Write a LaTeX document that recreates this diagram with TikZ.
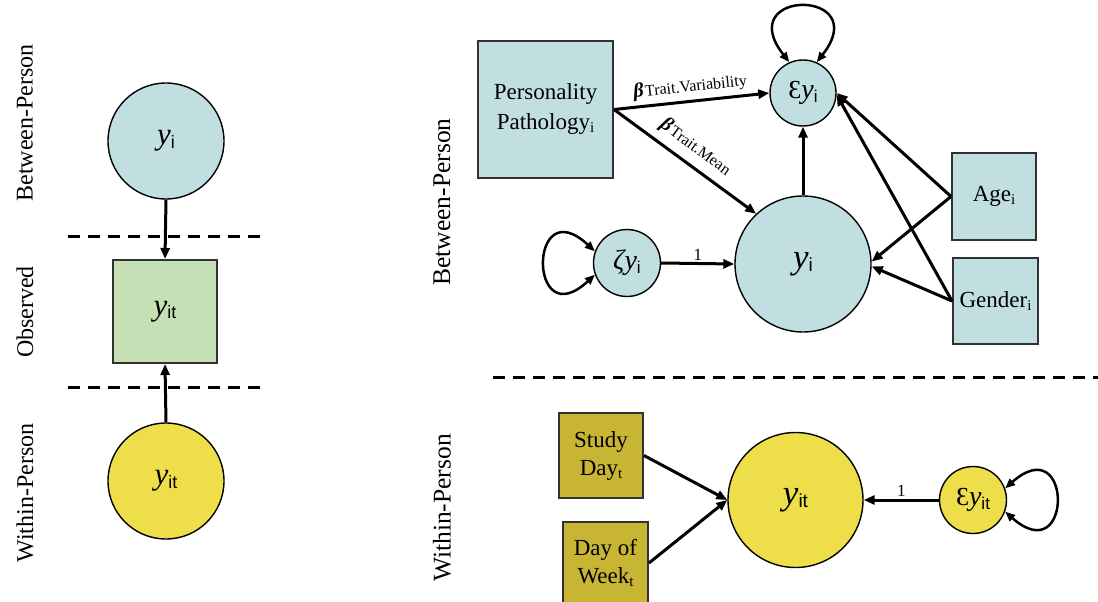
\documentclass[tikz,border=0pt]{standalone}
\usepackage{fontspec}
\setmainfont{Liberation Serif}
\setsansfont{Liberation Sans}
\usetikzlibrary{arrows.meta}
\definecolor{cblue}{RGB}{193,223,224}
\definecolor{cgreen}{RGB}{197,224,180}
\definecolor{cyellow}{RGB}{238,222,74}
\definecolor{colive}{RGB}{200,181,52}
\definecolor{cborder}{RGB}{50,50,50}
\newcommand{\Yv}[3]{{\fontsize{#1}{#1}\selectfont\itshape y}\raisebox{-3.5pt}{\sffamily\fontsize{#2}{#2}\selectfont #3}}
\newcommand{\Sbs}[1]{\raisebox{-3pt}{\fontsize{15}{15}\selectfont #1}}
\newcommand{\Bet}[1]{{\fontsize{20}{20}\selectfont\bfseries\itshape β}\hspace{1.5pt}{\fontsize{16}{16}\selectfont #1}}
\begin{document}
\begin{tikzpicture}[x=1pt,y=-1pt,
  lat/.style={circle,draw=black,line width=1.4pt,inner sep=0pt},
  obs/.style={rectangle,draw=cborder,line width=2pt,inner sep=0pt,align=center,font=\fontsize{23}{30}\selectfont},
  conn/.style={line width=3pt,-{Triangle[length=11pt,width=9pt]}},
  loopc/.style={line width=2.5pt,{Triangle[length=10pt,width=8pt]}-{Triangle[length=10pt,width=8pt]}},
  sepline/.style={line width=3pt,dash pattern=on 12pt off 8pt},
  grp/.style={rotate=90,inner sep=0pt,font=\fontsize{24}{24}\selectfont},
  one/.style={above=2pt,inner sep=0pt,font=\fontsize{17}{17}\selectfont}
]
\useasboundingbox (0,0) rectangle (1098,602);
\clip (0,0) rectangle (1098,602);
\fill[white] (0,0) rectangle (1098,602);

% ---------- left panel ----------
\node[grp] (lb1) at (25,123) {Between-Person};
\node[grp] (lb2) at (25,312) {Observed};
\node[grp] (lb3) at (25,493) {Within-Person};

\draw[sepline] (68,236) -- (264,236);
\draw[sepline] (68,387) -- (264,387);

\node[lat,fill=cblue,minimum size=116pt] (L1) at (166,141) {\Yv{31}{18}{i}};
\node[obs,fill=cgreen,minimum width=104pt,minimum height=103pt] (L2) at (165,311.5) {\Yv{31}{18}{it}};
\node[lat,fill=cyellow,minimum size=116pt] (L3) at (166,481) {\Yv{31}{18}{it}};

\draw[conn] (L1.south) -- (L2.north);
\draw[conn] (L3.north) -- (L2.south);

% ---------- right panel: between ----------
\node[grp,font=\fontsize{25.5}{25.5}\selectfont] (rb1) at (442,202) {Between-Person};
\node[grp,font=\fontsize{25.5}{25.5}\selectfont] (rb2) at (442,508) {Within-Person};

\draw[sepline] (493,377) -- (1098,377);

\node[obs,fill=cblue,minimum width=135pt,minimum height=137pt] (PP) at (545.5,109.5) {Personality\\Pathology\Sbs{i}};
\node[lat,fill=cblue,minimum size=66pt] (EY) at (803,93) {{\fontsize{26}{26}\selectfont Ɛ}\Yv{28}{17}{i}};
\node[lat,fill=cblue,minimum size=136pt] (YI) at (803,264) {\Yv{35}{19}{i}};
\node[lat,fill=cblue,minimum size=67pt] (ZY) at (627,263) {{\fontsize{28}{28}\selectfont\itshape ζ}\Yv{28}{17}{i}};
\node[obs,fill=cblue,minimum width=84pt,minimum height=87pt] (AGE) at (994,196.5) {Age\Sbs{i}};
\node[obs,fill=cblue,minimum width=85pt,minimum height=86pt] (GEN) at (995.5,301) {Gender\Sbs{i}};

\draw[loopc] (EY.114) .. controls +(-58,-74) and +(58,-74) .. (EY.66);
\draw[loopc] (ZY.160) .. controls +(-67,-62.5) and +(-67,62.5) .. (ZY.200);

\draw[conn] (PP.east) -- node[sloped,above=4pt,inner sep=0pt] (lv) {\Bet{Trait.Variability}} (EY.west);
\draw[conn] (PP.east) -- node[sloped,above=7pt,inner sep=0pt] (lm) {\Bet{Trait.Mean}} (YI.133);
\draw[conn] (YI.north) -- (EY.south);
\draw[conn] (ZY.east) -- node[one] (l1) {1} (YI.west);
\draw[conn] (AGE.west) -- (YI.2);
\draw[conn] (GEN.west) -- (YI.-2);
\draw[conn] (AGE.west) -- (EY.east);
\draw[conn] (GEN.west) -- (EY.-3);

% ---------- right panel: within ----------
\node[obs,fill=colive,minimum width=84pt,minimum height=85pt,font=\fontsize{23}{28}\selectfont] (SD) at (601,455.5) {Study\\Day\Sbs{t}};
\node[obs,fill=colive,minimum width=85pt,minimum height=82pt,font=\fontsize{23}{28}\selectfont] (DW) at (605.5,563) {Day of\\Week\Sbs{t}};
\node[lat,fill=cyellow,minimum size=135pt] (YIT) at (795.5,500) {\Yv{35}{19}{it}};
\node[lat,fill=cyellow,minimum size=67pt] (EYT) at (973,500) {{\fontsize{26}{26}\selectfont Ɛ}\Yv{28}{17}{it}};

\draw[loopc] (EYT.20) .. controls +(68,-60) and +(68,60) .. (EYT.-20);
\draw[conn] (SD.east) -- (YIT.west);
\draw[conn] (DW.east) -- (YIT.west);
\draw[conn] (EYT.west) -- node[one] (l2) {1} (YIT.east);
\end{tikzpicture}
\end{document}
